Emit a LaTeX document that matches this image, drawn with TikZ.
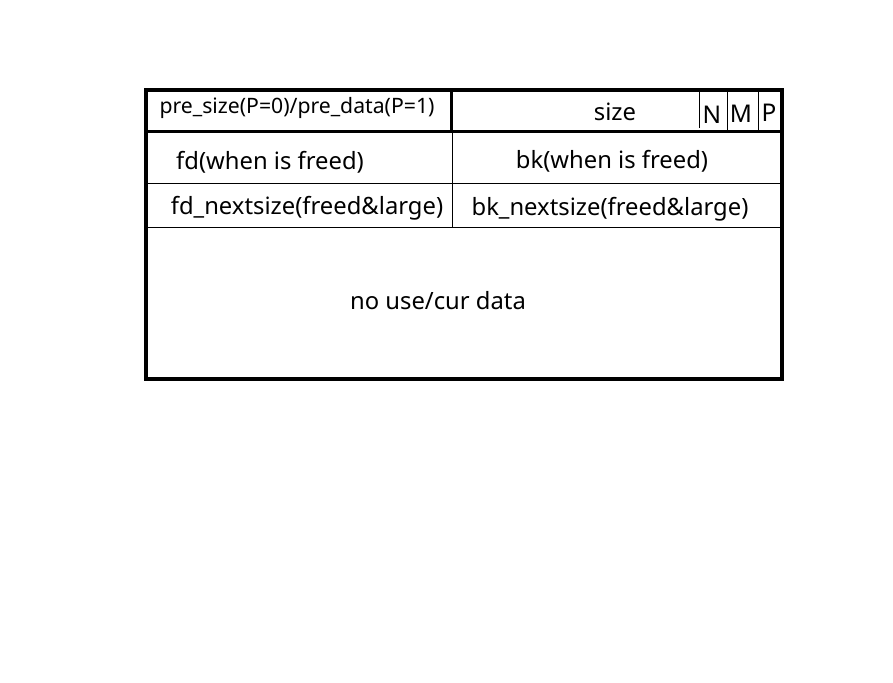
\documentclass[tikz,border=0pt]{standalone}
\usepackage{fontspec}
\setmainfont{Noto Sans}
\usetikzlibrary{positioning}

\begin{document}
\begin{tikzpicture}[
    x=0.5pt, y=-0.5pt,
    frame/.style={draw=black, line width=2pt},
    bar/.style={draw=black, line width=1.5pt},
    rule/.style={draw=black, line width=0.5pt},
    field/.style={inner sep=0pt, font=\fontsize{11.9}{14}\selectfont},
    small/.style={inner sep=0pt, font=\fontsize{10.6}{12}\selectfont},
    flag/.style={inner sep=0pt, font=\fontsize{12.2}{14}\selectfont}
]
\useasboundingbox (0,0) rectangle (893,682);

% chunk outline
\draw [frame] (146,89.5) rectangle (782,379);
\draw [bar] (146,131.5) -- (782,131.5);
\draw [bar] (451.5,89.5) -- (451.5,131.5);
\draw [rule] (452,131.5) -- (452,227);
\draw [rule] (146,183) -- (782,183);
\draw [rule] (146,227) -- (782,227);
% flag bits
\draw [rule] (699,89.5) -- (699,128);
\draw [rule] (727,89.5) -- (727,131.5);
\draw [rule] (758,89.5) -- (758,131.5);

% fields
\node [small] (presize) at (297,108) {pre\_size(P=0)/pre\_data(P=1)};
\node [field] (size) at (615,112) {size};
\node [flag] (nbit) at (712,115) {N};
\node [flag] (mbit) at (741,114) {M};
\node [flag] (pbit) at (769,113) {P};
\node [field] (fd) at (270,162) {fd(when is freed)};
\node [field] (bk) at (612,161) {bk(when is freed)};
\node [field] (fdnext) at (307,208) {fd\_nextsize(freed\&large)};
\node [field] (bknext) at (610,209) {bk\_nextsize(freed\&large)};
\node [field] (data) at (438,301) {no use/cur data};
\end{tikzpicture}
\end{document}
